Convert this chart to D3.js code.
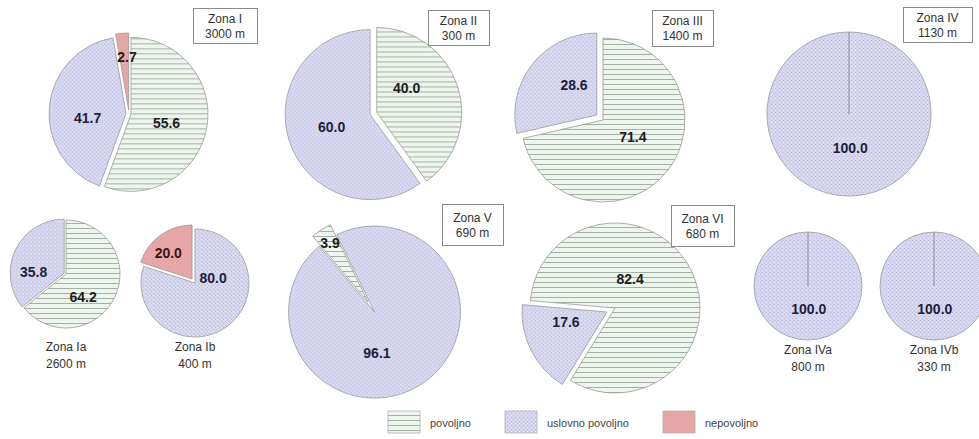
<!DOCTYPE html>
<html>
<head>
<meta charset="utf-8">
<script src="https://cdn.jsdelivr.net/npm/d3@7/dist/d3.min.js"></script>
<style>
  body { margin: 0; background: #fff; }
  svg { display: block; font-family: "Liberation Sans", Arial, sans-serif; }
</style>
</head>
<body>
<script>
// categories (legend order)
var categories = ["povoljno", "uslovno povoljno", "nepovoljno"];

// zones
var zoneNames   = ["Zona I", "Zona II", "Zona III", "Zona IV", "Zona Ia", "Zona Ib", "Zona V", "Zona VI", "Zona IVa", "Zona IVb"];
var zoneLengths = ["3000 m", "300 m", "1400 m", "1130 m", "2600 m", "400 m", "690 m", "680 m", "800 m", "330 m"];

// percentages per category
var povoljno   = [55.6, 40.0, 71.4, 0, 64.2, 0, 3.9, 82.4, 0, 0];
var uslovno    = [41.7, 60.0, 28.6, 100.0, 35.8, 80.0, 96.1, 17.6, 100.0, 100.0];
var nepovoljno = [2.7, 0, 0, 0, 0, 20.0, 0, 0, 0, 0];

// layout of each pie (center, radius, first slice angle, explode, title, label positions)
var layout = [
  { cx: 129, cy: 114, r: 77, start: 0,   explode: [2, 3, 4],  box: [193, 8, 64, 35],  lab: [[103, .5], [264, .54], [358, .74]] },
  { cx: 372, cy: 114, r: 85, start: 0,   explode: [5, 2, 0],  box: [428, 10, 61, 35], lab: [[53, .51], [252, .5], null] },
  { cx: 603, cy: 120, r: 82, start: 0,   explode: [0, 8, 0],  box: [652, 10, 61, 36], lab: [[120, .42], [320, .55], null] },
  { cx: 849, cy: 114, r: 82, start: 0,   explode: [0, 0, 0],  box: [903, 7, 69, 35],  lab: [null, [178, .42], null] },
  { cx: 66,  cy: 274, r: 54, start: 0,   explode: [0, 2, 0],  below: 347,              lab: [[144, .54], [273, .6], null] },
  { cx: 195, cy: 283, r: 54, start: 0,   explode: [0, 0, 5],  below: 347,              lab: [null, [74, .35], [318, .74]] },
  { cx: 368, cy: 302, r: 86, start: 320, explode: [0, 12, 0], box: [442, 204, 61, 41], lab: [[327, .81], [170, .6], null] },
  { cx: 615, cy: 308, r: 85, start: 275, explode: [0, 9, 0],  box: [671, 205, 63, 41], lab: [[28, .38], [254, .6], null] },
  { cx: 808, cy: 286, r: 54, start: 0,   explode: [0, 0, 0],  below: 350,              lab: [null, [178, .42], null] },
  { cx: 934, cy: 286, r: 54, start: 0,   explode: [0, 0, 0],  below: 350,              lab: [null, [178, .42], null] }
];

var w = 979, h = 439;
var toRad = Math.PI / 180;

var svg = d3.select("body").append("svg").attr("width", w).attr("height", h);
var defs = svg.append("defs");

// fill patterns
var pPov = defs.append("pattern").attr("id", "pat0").attr("patternUnits", "userSpaceOnUse")
  .attr("width", 8).attr("height", 5);
pPov.append("rect").attr("width", 8).attr("height", 5).attr("fill", "#eef5ee");
pPov.append("line").attr("x1", 0).attr("x2", 8).attr("y1", 4.5).attr("y2", 4.5)
  .attr("stroke", "#a3b3a3").attr("stroke-width", 1);

var pUsl = defs.append("pattern").attr("id", "pat1").attr("patternUnits", "userSpaceOnUse")
  .attr("width", 4).attr("height", 4);
pUsl.append("rect").attr("width", 4).attr("height", 4).attr("fill", "#d6d6ef");
pUsl.append("rect").attr("x", 0).attr("y", 0).attr("width", 1).attr("height", 1).attr("fill", "#bdbde0");
pUsl.append("rect").attr("x", 2).attr("y", 2).attr("width", 1).attr("height", 1).attr("fill", "#bdbde0");
pUsl.append("rect").attr("x", 2).attr("y", 0).attr("width", 1).attr("height", 1).attr("fill", "#e6e6f7");

var pNep = defs.append("pattern").attr("id", "pat2").attr("patternUnits", "userSpaceOnUse")
  .attr("width", 4).attr("height", 4);
pNep.append("rect").attr("width", 4).attr("height", 4).attr("fill", "#e8a8a8");
pNep.append("rect").attr("x", 0).attr("y", 0).attr("width", 1).attr("height", 1).attr("fill", "#dc9898");
pNep.append("rect").attr("x", 2).attr("y", 2).attr("width", 1).attr("height", 1).attr("fill", "#dc9898");

var fills = ["url(#pat0)", "url(#pat1)", "url(#pat2)"];
var labelColors = ["#1d1d1d", "#1e1e3c", "#3a1414"];

var pie = d3.pie().sort(null).value(function(d) { return d.v; });

zoneNames.forEach(function(name, i) {
  var L = layout[i];
  var data = [povoljno[i], uslovno[i], nepovoljno[i]].map(function(v, k) { return { v: v, k: k }; });
  var a0 = L.start * toRad;
  var slices = pie.startAngle(a0).endAngle(a0 + 2 * Math.PI)(data)
    .filter(function(d) { return d.data.v > 0; });

  var arc = d3.arc().innerRadius(0).outerRadius(L.r);
  var g = svg.append("g").attr("transform", "translate(" + L.cx + "," + L.cy + ")");

  var sg = g.selectAll(".slice").data(slices).enter().append("g")
    .attr("class", "slice")
    .attr("transform", function(d) {
      var p = d3.pointRadial((d.startAngle + d.endAngle) / 2, L.explode[d.data.k]);
      return "translate(" + p[0] + "," + p[1] + ")";
    });

  sg.append("path")
    .attr("d", arc)
    .attr("fill", function(d) { return fills[d.data.k]; })
    .attr("stroke", "#9a9a9a")
    .attr("stroke-width", 0.8);

  // full circle: radial edge line at start
  sg.filter(function(d) { return d.endAngle - d.startAngle > 6.28; })
    .append("line")
    .attr("x1", 0).attr("y1", 0)
    .attr("x2", function(d) { return d3.pointRadial(d.startAngle, L.r)[0]; })
    .attr("y2", function(d) { return d3.pointRadial(d.startAngle, L.r)[1]; })
    .attr("stroke", "#8a8a9a").attr("stroke-width", 1);

  // value labels
  sg.append("text")
    .attr("transform", function(d) {
      var lb = L.lab[d.data.k];
      var ang = lb ? lb[0] * toRad : (d.startAngle + d.endAngle) / 2;
      var rr = lb ? lb[1] * L.r : L.r * 0.5;
      var p = d3.pointRadial(ang, rr);
      var e = d3.pointRadial((d.startAngle + d.endAngle) / 2, L.explode[d.data.k]);
      return "translate(" + (p[0] - e[0]) + "," + (p[1] - e[1]) + ")";
    })
    .attr("text-anchor", "middle")
    .attr("dy", "0.35em")
    .attr("font-size", 14)
    .attr("font-weight", "bold")
    .attr("fill", function(d) { return labelColors[d.data.k]; })
    .text(function(d) { return d3.format(".1f")(d.data.v); });

  // zone title
  if (L.box) {
    var b = L.box;
    svg.append("rect").attr("x", b[0] + 0.5).attr("y", b[1] + 0.5).attr("width", b[2]).attr("height", b[3])
      .attr("fill", "#fff").attr("stroke", "#8c8c8c").attr("stroke-width", 1);
    var t = svg.append("text").attr("x", b[0] + b[2] / 2).attr("text-anchor", "middle")
      .attr("font-size", 12).attr("fill", "#333");
    t.append("tspan").attr("x", b[0] + b[2] / 2).attr("y", b[1] + b[3] / 2 - 3).text(name);
    t.append("tspan").attr("x", b[0] + b[2] / 2).attr("y", b[1] + b[3] / 2 + 12).text(zoneLengths[i]);
  } else {
    var t2 = svg.append("text").attr("text-anchor", "middle").attr("font-size", 12).attr("fill", "#333");
    t2.append("tspan").attr("x", L.cx).attr("y", L.below + 4).text(name);
    t2.append("tspan").attr("x", L.cx).attr("y", L.below + 21).text(zoneLengths[i]);
  }
});

// legend
var legendX = [388, 505, 663];
var legend = svg.append("g").attr("class", "legend");
var items = legend.selectAll("g").data(categories).enter().append("g")
  .attr("transform", function(d, i) { return "translate(" + legendX[i] + ",411)"; });
items.append("rect").attr("width", 32).attr("height", 22)
  .attr("fill", function(d, i) { return fills[i]; })
  .attr("stroke", "#b0b0b0").attr("stroke-width", 0.8);
items.append("text").attr("x", 42).attr("y", 16).attr("font-size", 11).attr("fill", "#444")
  .text(function(d) { return d; });
</script>
</body>
</html>
